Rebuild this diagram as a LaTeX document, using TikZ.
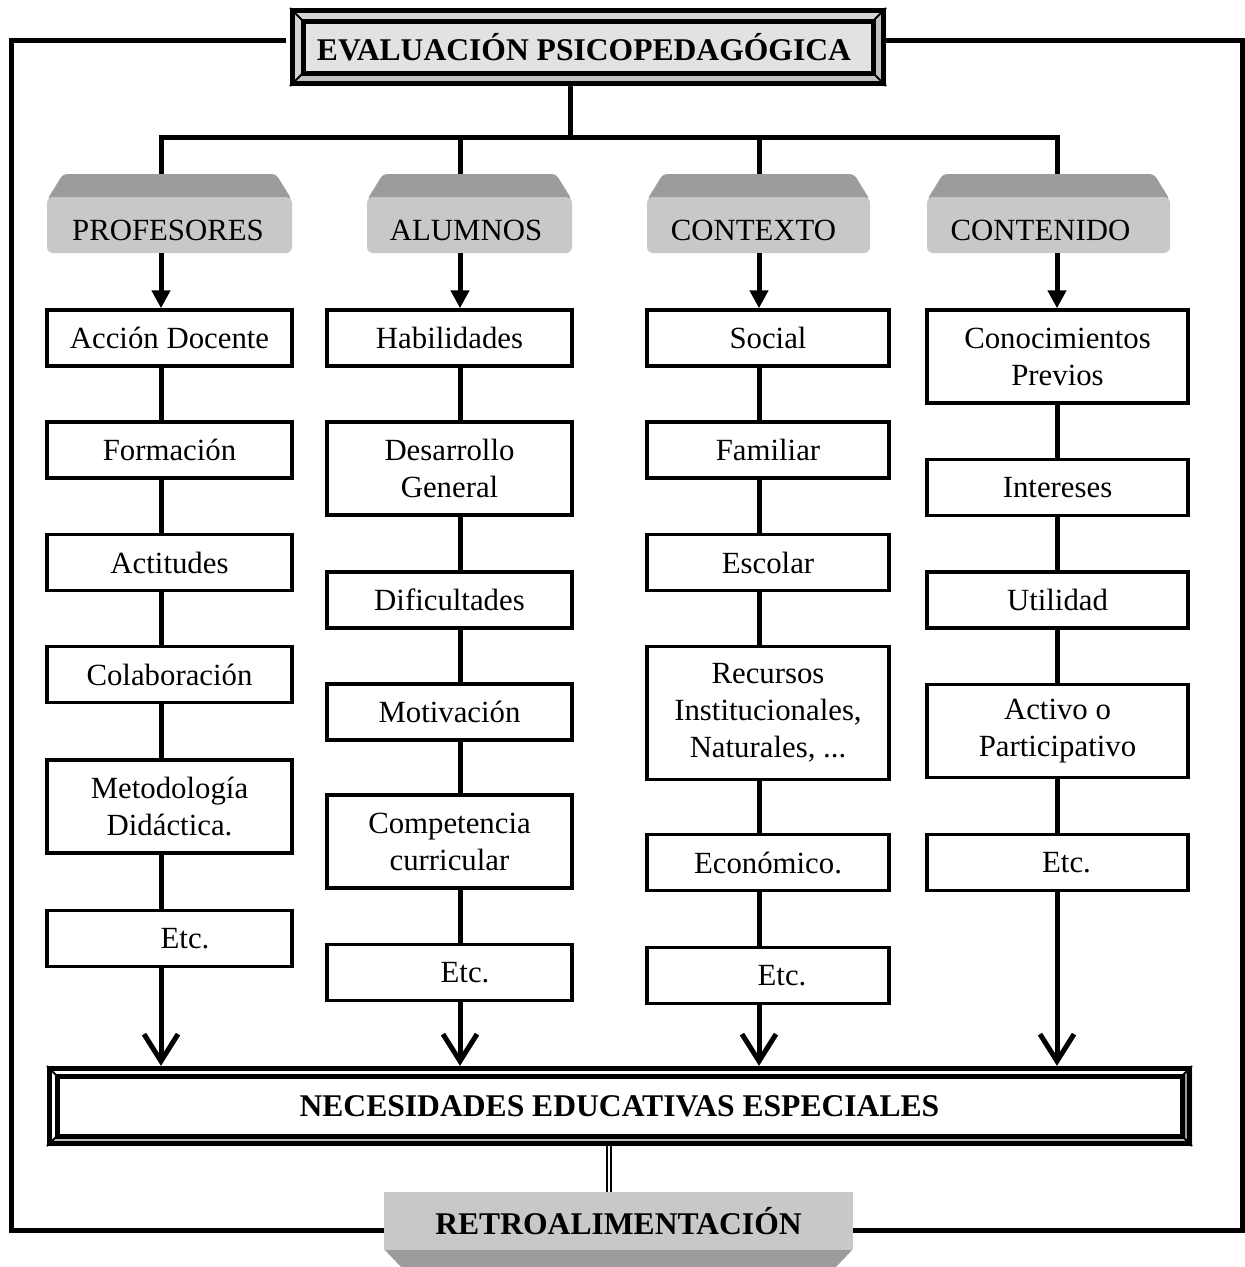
\documentclass[tikz,border=0pt]{standalone}
\usepackage{fontspec}
\setmainfont{Liberation Serif}
\usetikzlibrary{arrows.meta,calc}
\pgfdeclarelayer{bg}
\pgfsetlayers{bg,main}
\definecolor{facegrey}{HTML}{C8C8C8}
\definecolor{topgrey}{HTML}{9C9C9C}
\definecolor{titlefill}{HTML}{E2E2E2}
\definecolor{bevellight}{HTML}{D4D4D4}
\definecolor{beveldark}{HTML}{9A9A9A}
\definecolor{bevelmid}{HTML}{C0C0C0}

% Bevelled panel: x1 y1 x2 y2 inset, top/left colour, right colour, bottom colour, inner colour
\newcommand\bevelpanel[9]{%
  \fill[#9] (#1,#2) rectangle (#3,#4);
  \fill[#6] (#1,#2) -- (#3,#2) -- (#3-#5,#2+#5) -- (#1+#5,#2+#5) -- cycle;
  \fill[#6] (#1,#2) -- (#1+#5,#2+#5) -- (#1+#5,#4-#5) -- (#1,#4) -- cycle;
  \fill[#7] (#3,#2) -- (#3,#4) -- (#3-#5,#4-#5) -- (#3-#5,#2+#5) -- cycle;
  \fill[#8] (#1,#4) -- (#3,#4) -- (#3-#5,#4-#5) -- (#1+#5,#4-#5) -- cycle;
  \draw[line width=2pt] (#1,#2) -- (#1+#5,#2+#5) (#3,#2) -- (#3-#5,#2+#5)
    (#3,#4) -- (#3-#5,#4-#5) (#1,#4) -- (#1+#5,#4-#5);
  \draw[line width=5pt] (#1+#5,#2+#5) rectangle (#3-#5,#4-#5);
  \draw[line width=5pt] (#1+2.5,#2+2.5) rectangle (#3-2.5,#4-2.5);
}

% Raised grey heading: name, left x, right x, text
\newcommand\headbox[4]{%
  \fill[topgrey, rounded corners=4pt] (#2,200) -- (#2+16,174) -- (#3-16,174) -- (#3,200) -- cycle;
  \node[hdr, minimum width={(#3-#2)*1pt}] (#1) at ({(#2+#3)/2},225) {\raisebox{-5pt}[\height][\depth]{#4}};
}

\begin{document}
\begin{tikzpicture}[x=1pt,y=-1pt,
  txt/.style={font=\fontsize{30.8}{37}\selectfont, align=center},
  cbox/.style={txt, draw, line width=3.5pt, fill=white, minimum height=56pt, inner sep=0pt},
  colA/.style={cbox, minimum width=245pt},
  colB/.style={cbox, minimum width=245pt},
  colC/.style={cbox, minimum width=242pt},
  colD/.style={cbox, minimum width=261pt},
  tall/.style={minimum height=93pt},
  hdr/.style={txt, fill=facegrey, rounded corners=6pt, minimum height=56pt, inner sep=0pt},
  conn/.style={line width=5pt},
  toparrow/.style={-{Triangle[width=18pt,length=18pt]}},
  botarrow/.style={-{Straight Barb[length=27pt,width=34pt]}},
  frameline/.style={line width=5pt},
  bold/.style={font=\fontsize{31.6}{37}\selectfont\bfseries}
]
\useasboundingbox (0,0) rectangle (1245,1267);

% title panel
\bevelpanel{290}{8}{886}{86}{13}{bevellight}{bevelmid}{bevelmid}{titlefill}
\node[bold, minimum width=596pt, minimum height=78pt, inner sep=0pt] (T) at (584,47) {EVALUACIÓN PSICOPEDAGÓGICA};

% headings
\headbox{h1}{47}{292}{PROFESORES\hspace*{3pt}}
\headbox{h2}{367}{572}{ALUMNOS\hspace*{7pt}}
\headbox{h3}{647}{870}{CONTEXTO\hspace*{10pt}}
\headbox{h4}{927}{1170}{CONTENIDO\hspace*{16pt}}

% column: profesores
\node[colA] (p1) at (169.5,338) {Acción Docente};
\node[colA] (p2) at (169.5,450) {Formación};
\node[colA] (p3) at (169.5,562.5) {Actitudes};
\node[colA] (p4) at (169.5,674.5) {Colaboración};
\node[colA, tall] (p5) at (169.5,806.5) {Metodología\\Didáctica.};
\node[colA] (p6) at (169.5,938.5) {\hspace*{31pt}Etc.};

% column: alumnos
\node[colB] (a1) at (449.5,338) {Habilidades};
\node[colB, tall] (a2) at (449.5,468.5) {Desarrollo\\General};
\node[colB] (a3) at (449.5,600) {Dificultades};
\node[colB] (a4) at (449.5,712) {Motivación};
\node[colB, tall] (a5) at (449.5,841.5) {Competencia\\curricular};
\node[colB] (a6) at (449.5,972.5) {\hspace*{31pt}Etc.};

% column: contexto
\node[colC] (c1) at (768,338) {Social};
\node[colC] (c2) at (768,450) {Familiar};
\node[colC] (c3) at (768,562.5) {Escolar};
\node[colC, minimum height=133pt] (c4) at (768,713) {Recursos\\Institucionales,\\Naturales, ...};
\node[colC] (c5) at (768,862.5) {Económico.};
\node[colC] (c6) at (768,975.5) {\hspace*{28pt}Etc.};

% column: contenido
\node[colD, tall] (n1) at (1057.5,356.5) {Conocimientos\\Previos};
\node[colD] (n2) at (1057.5,487.5) {Intereses};
\node[colD] (n3) at (1057.5,600) {Utilidad};
\node[colD, tall] (n4) at (1057.5,731) {Activo o\\Participativo};
\node[colD] (n5) at (1057.5,862.5) {\hspace*{18pt}Etc.};

% special needs panel
\bevelpanel{47}{1066}{1192}{1146}{10}{white}{beveldark}{bevelmid}{white}
\node[bold, minimum width=1145pt, minimum height=80pt, inner sep=0pt] (N) at (619.5,1106) {NECESIDADES EDUCATIVAS ESPECIALES};

% feedback panel
\fill[topgrey] (384,1249) -- (853,1249) -- (836,1267) -- (401,1267) -- cycle;
\node[bold, fill=facegrey, minimum width=469pt, minimum height=58pt, inner sep=0pt] (R) at (618.5,1221) {RETROALIMENTACIÓN};

% connector positions
\coordinate (tb) at (570,137);
\coordinate (b1) at (161,137);
\coordinate (b2) at (460,137);
\coordinate (b3) at (759,137);
\coordinate (b4) at (1057,137);
\coordinate (dx) at (609,0);
\coordinate (fTL) at (11,40);
\coordinate (fTR) at (1242,40);
\coordinate (fBL) at (11,1230);
\coordinate (fBR) at (1242,1230);

\begin{pgfonlayer}{bg}
  % outer feedback loop
  \draw[frameline] (T.west |- fTL) -- (fTL) -- (fBL) -- (R.west |- fBL);
  \draw[frameline] (T.east |- fTR) -- (fTR) -- (fBR) -- (R.east |- fBR);
  % title to headings
  \draw[conn] (T.south -| tb) -- (tb);
  \draw[conn] (h1.north -| b1) -- (b1) -- (b4) -- (h4.north -| b4);
  \draw[conn] (b2) -- (h2.north -| b2);
  \draw[conn] (b3) -- (h3.north -| b3);
  % double link
  \draw[line width=2.3pt, double=white, double distance=2.3pt] (N.south -| dx) -- (R.north -| dx);
\end{pgfonlayer}

% heading arrows
\draw[conn, toparrow] (h1.south -| b1) -- (p1.north -| b1);
\draw[conn, toparrow] (h2.south -| b2) -- (a1.north -| b2);
\draw[conn, toparrow] (h3.south -| b3) -- (c1.north -| b3);
\draw[conn, toparrow] (h4.south -| b4) -- (n1.north -| b4);

% column links
\foreach \u/\v in {p1/p2,p2/p3,p3/p4,p4/p5,p5/p6}
  \draw[conn] (\u.south -| b1) -- (\v.north -| b1);
\foreach \u/\v in {a1/a2,a2/a3,a3/a4,a4/a5,a5/a6}
  \draw[conn] (\u.south -| b2) -- (\v.north -| b2);
\foreach \u/\v in {c1/c2,c2/c3,c3/c4,c4/c5,c5/c6}
  \draw[conn] (\u.south -| b3) -- (\v.north -| b3);
\foreach \u/\v in {n1/n2,n2/n3,n3/n4,n4/n5}
  \draw[conn] (\u.south -| b4) -- (\v.north -| b4);

% arrows into the special needs panel
\draw[conn, botarrow] (p6.south -| b1) -- (N.north -| b1);
\draw[conn, botarrow] (a6.south -| b2) -- (N.north -| b2);
\draw[conn, botarrow] (c6.south -| b3) -- (N.north -| b3);
\draw[conn, botarrow] (n5.south -| b4) -- (N.north -| b4);
\end{tikzpicture}
\end{document}
